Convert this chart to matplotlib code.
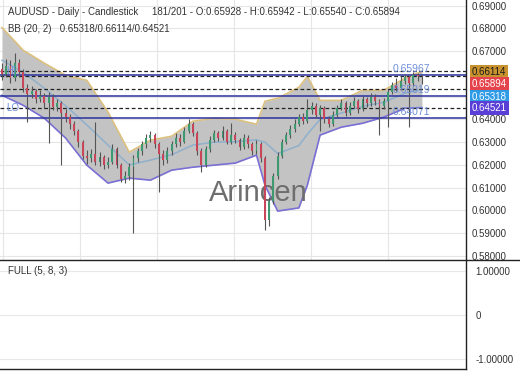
import matplotlib
matplotlib.use("Agg")
import matplotlib.pyplot as plt
from matplotlib.lines import Line2D

plt.rcParams['font.family'] = ['Liberation Sans', 'DejaVu Sans']

# ---------------- data ----------------
first_open = 0.6620
closes = [0.6600, 0.6635, 0.6580, 0.6650, 0.6610, 0.6540, 0.6510, 0.6525, 0.6490, 0.6505,
          0.6470, 0.6500, 0.6455, 0.6470, 0.6430, 0.6410, 0.6380, 0.6350, 0.6300, 0.6240,
          0.6230, 0.6250, 0.6215, 0.6235, 0.6200, 0.6215, 0.6270, 0.6200, 0.6140, 0.6150,
          0.6190, 0.6230, 0.6260, 0.6290, 0.6320, 0.6330, 0.6290, 0.6250, 0.6220, 0.6260,
          0.6290, 0.6320, 0.6300, 0.6350, 0.6380, 0.6340, 0.6260, 0.6200, 0.6270, 0.6310,
          0.6340, 0.6320, 0.6350, 0.6300, 0.6330, 0.6310, 0.6280, 0.6320, 0.6290, 0.6260,
          0.6290, 0.6230, 0.5960, 0.6040, 0.6150, 0.6240, 0.6300, 0.6330, 0.6360, 0.6380,
          0.6410, 0.6395, 0.6440, 0.6460, 0.6420, 0.6450, 0.6400, 0.6380, 0.6420, 0.6450,
          0.6470, 0.6430, 0.6460, 0.6480, 0.6445, 0.6490, 0.6470, 0.6500, 0.6480, 0.6460,
          0.6480, 0.6520, 0.6550, 0.6540, 0.6570, 0.6585, 0.6560, 0.6595, 0.65928, 0.65894]
highs = [0.6650, 0.6665, 0.6660, 0.6690, 0.6665, 0.6620, 0.6555, 0.6545, 0.6535, 0.6530,
         0.6515, 0.6520, 0.6510, 0.6490, 0.6480, 0.6445, 0.6425, 0.6395, 0.6360, 0.6310,
         0.6265, 0.6270, 0.6390, 0.6255, 0.6245, 0.6235, 0.6290, 0.6280, 0.6210, 0.6175,
         0.6210, 0.6245, 0.6275, 0.6305, 0.6335, 0.6350, 0.6340, 0.6300, 0.6265, 0.6280,
         0.6305, 0.6340, 0.6335, 0.6365, 0.6400, 0.6390, 0.6350, 0.6275, 0.6285, 0.6325,
         0.6355, 0.6350, 0.6370, 0.6360, 0.6385, 0.6345, 0.6320, 0.6335, 0.6330, 0.6300,
         0.6310, 0.6300, 0.6240, 0.6060, 0.6165, 0.6255, 0.6315, 0.6345, 0.6375, 0.6400,
         0.6425, 0.6430, 0.6490, 0.6475, 0.6470, 0.6465, 0.6460, 0.6415, 0.6435, 0.6465,
         0.6490, 0.6480, 0.6475, 0.6500, 0.6490, 0.6505, 0.6500, 0.6515, 0.6510, 0.6490,
         0.6495, 0.6535, 0.6565, 0.6580, 0.6590, 0.6600, 0.6595, 0.6610, 0.6605, 0.65942]
lows = [0.6575, 0.6585, 0.6560, 0.6570, 0.6585, 0.6520, 0.6390, 0.6495, 0.6470, 0.6475,
        0.6450, 0.6295, 0.6440, 0.6435, 0.6200, 0.6390, 0.6360, 0.6330, 0.6280, 0.6225,
        0.6205, 0.6215, 0.6200, 0.6195, 0.6180, 0.6185, 0.6205, 0.6185, 0.6125, 0.6120,
        0.6135, 0.5900, 0.6215, 0.6245, 0.6275, 0.6300, 0.6275, 0.6080, 0.6200, 0.6210,
        0.6245, 0.6280, 0.6285, 0.6295, 0.6340, 0.6325, 0.6245, 0.6170, 0.6190, 0.6255,
        0.6300, 0.6305, 0.6310, 0.6290, 0.6290, 0.6295, 0.6265, 0.6270, 0.6275, 0.6245,
        0.6250, 0.6215, 0.5915, 0.5930, 0.6030, 0.6140, 0.6230, 0.6290, 0.6320, 0.6345,
        0.6370, 0.6380, 0.6385, 0.6425, 0.6405, 0.6350, 0.6385, 0.6365, 0.6370, 0.6410,
        0.6440, 0.6415, 0.6420, 0.6450, 0.6430, 0.6435, 0.6455, 0.6460, 0.6465, 0.6330,
        0.6445, 0.6365, 0.6510, 0.6525, 0.6530, 0.6555, 0.6365, 0.6545, 0.6570, 0.65540]
opens = [first_open] + closes[:-1]

# Bollinger band (20, 2) read at sample bars
bb_idx = [0, 5, 10, 15, 20, 25, 30, 35, 40, 45, 50, 55, 60, 62, 65, 70, 72, 75, 80, 85, 90, 95, 99]
bb_upper = [0.6804, 0.6704, 0.6647, 0.6594, 0.6572, 0.6432, 0.6256, 0.6309, 0.6326, 0.6392, 0.6405, 0.6401,
            0.6379, 0.6480, 0.6493, 0.6541, 0.6589, 0.6484, 0.6484, 0.6528, 0.6528, 0.6581, 0.66114]
bb_mid = [0.6660, 0.6607, 0.6537, 0.6460, 0.6376, 0.6287, 0.6200, 0.6221, 0.6245, 0.6287, 0.6300, 0.6302,
          0.6310, 0.6300, 0.6250, 0.6285, 0.6335, 0.6400, 0.6428, 0.6458, 0.6475, 0.6515, 0.65318]
bb_lower = [0.6506, 0.6462, 0.6405, 0.6318, 0.6199, 0.6120, 0.6142, 0.6133, 0.6177, 0.6190, 0.6199, 0.6208,
            0.6243, 0.6111, 0.5997, 0.6011, 0.6111, 0.6331, 0.6366, 0.6383, 0.6410, 0.6449, 0.64521]

dashed_levels = [0.66114, 0.65894, 0.65318, 0.64521]
pivot_levels = [0.65967, 0.65019, 0.64071]
tag_values = ["0.66114", "0.65894", "0.65318", "0.64521"]
tag_colors = ["#c8922e", "#e5444d", "#2f9be6", "#5a3fd6"]
tag_text = ["#1a1a1a", "white", "white", "white"]

price_ticks = [0.58, 0.59, 0.60, 0.61, 0.62, 0.63, 0.64, 0.65, 0.66, 0.67, 0.68, 0.69]
osc_ticks = [-1.0, 0.0, 1.0]
osc_labels = ["-1.00000", "0", "1.00000"]
grid_x = [0.25, 18.4, 36.6, 54.7, 72.9, 91.0]

# ---------------- figure ----------------
W, H = 520, 390
fig = plt.figure(figsize=(W / 100, H / 100), dpi=100)
ax = fig.add_axes([0, 130 / H, 466 / W, 260 / H])
ax2 = fig.add_axes([0, 21 / H, 466 / W, 109 / H])

n = len(closes)
xs = list(range(n))

ax.set_xlim(-0.47, 109.4)
ax.set_ylim(0.5782, 0.6925)

for gx in grid_x:
    ax.axvline(gx, color="#e6e6e6", lw=0.8, zorder=0)
for t in price_ticks:
    ax.axhline(t, color="#e6e6e6", lw=0.8, zorder=0)

# bands
ax.fill_between(bb_idx, bb_lower, bb_upper, color="#c3c3c3", zorder=1, lw=0)
ax.plot(bb_idx, bb_upper, color="#dcc07e", lw=1.2, zorder=2)
ax.plot(bb_idx, bb_lower, color="#7a6fd4", lw=1.2, zorder=2)
ax.plot(bb_idx, bb_mid, color="#8fb0cc", lw=1.1, zorder=2)

# watermark
ax.text(60.5, 0.6075, "Arincen", fontsize=21, color="#6e6e6e", ha="center", va="center", zorder=2)

# levels
for lv in dashed_levels:
    ax.axhline(lv, color="#222222", lw=0.9, ls=(0, (3, 2)), zorder=2.5)
for lv in pivot_levels:
    ax.axhline(lv, color="#2c32a0", lw=1.1, zorder=2.5)
    ax.text(92.2, lv + 0.0004, f"{lv:.5f}", color="#6f8fd8", fontsize=7.5, va="bottom", zorder=5)
ax.text(1.0, dashed_levels[0], "HI", color="#6f8fd8", fontsize=7, va="center", zorder=5)
ax.text(1.0, dashed_levels[3], "LO", color="#6f8fd8", fontsize=7, va="center", zorder=5)

# candles
up = [c >= o for o, c in zip(opens, closes)]
colors = ["#3d9970" if u else "#c8455a" for u in up]
ax.vlines(xs, lows, highs, color="#555555", lw=0.8, zorder=3)
bottoms = [min(o, c) for o, c in zip(opens, closes)]
heights = [max(abs(c - o), 0.0002) for o, c in zip(opens, closes)]
ax.bar(xs, heights, bottom=bottoms, width=0.45, color=colors, zorder=3.5, lw=0)

# axes styling
for s in ["top", "left", "bottom"]:
    ax.spines[s].set_visible(False)
ax.spines["right"].set_color("#222222")
ax.spines["right"].set_linewidth(1.0)
ax.set_xticks([])
ax.yaxis.tick_right()
ax.set_yticks(price_ticks)
ax.set_yticklabels(["" if t in (0.65, 0.66) else f"{t:.5f}" for t in price_ticks])
ax.tick_params(axis="y", length=0, pad=4, labelsize=7, labelcolor="#333333")

ax.text(0.017, 0.955, "AUDUSD - Daily - Candlestick     181/201 - O:0.65928 - H:0.65942 - L:0.65540 - C:0.65894",
        transform=ax.transAxes, fontsize=7, color="#333333", va="center", clip_on=False, zorder=6)
ax.text(0.017, 0.89, "BB (20, 2)   0.65318/0.66114/0.64521",
        transform=ax.transAxes, fontsize=7, color="#333333", va="center", zorder=6)

# price tags on the right
tag_y = [72, 84, 96.5, 108]
for val, fc, tc, py in zip(tag_values, tag_colors, tag_text, tag_y):
    fig.text(472 / W, 1 - py / H, val, fontsize=7, color=tc, va="center", ha="left",
             bbox=dict(boxstyle="square,pad=0.2", fc=fc, ec="none"), zorder=10)

# oscillator panel
ax2.set_xlim(-0.47, 109.4)
ax2.set_ylim(-1.23, 1.25)
for t in osc_ticks:
    ax2.axhline(t, color="#e8e8e8", lw=0.8, zorder=0)
for s in ["top", "left"]:
    ax2.spines[s].set_visible(False)
for s in ["right", "bottom"]:
    ax2.spines[s].set_color("#222222")
    ax2.spines[s].set_linewidth(1.0)
ax2.set_xticks([])
ax2.yaxis.tick_right()
ax2.set_yticks(osc_ticks)
ax2.set_yticklabels(osc_labels)
ax2.tick_params(axis="y", length=0, pad=7, labelsize=7, labelcolor="#333333")
ax2.text(0.017, 0.9, "FULL (5, 8, 3)", transform=ax2.transAxes, fontsize=7, color="#333333", va="center")

fig.add_artist(Line2D([0, 1], [130 / H, 130 / H], color="#222222", lw=1.0))

fig.savefig("out.png", dpi=100, facecolor="white")
